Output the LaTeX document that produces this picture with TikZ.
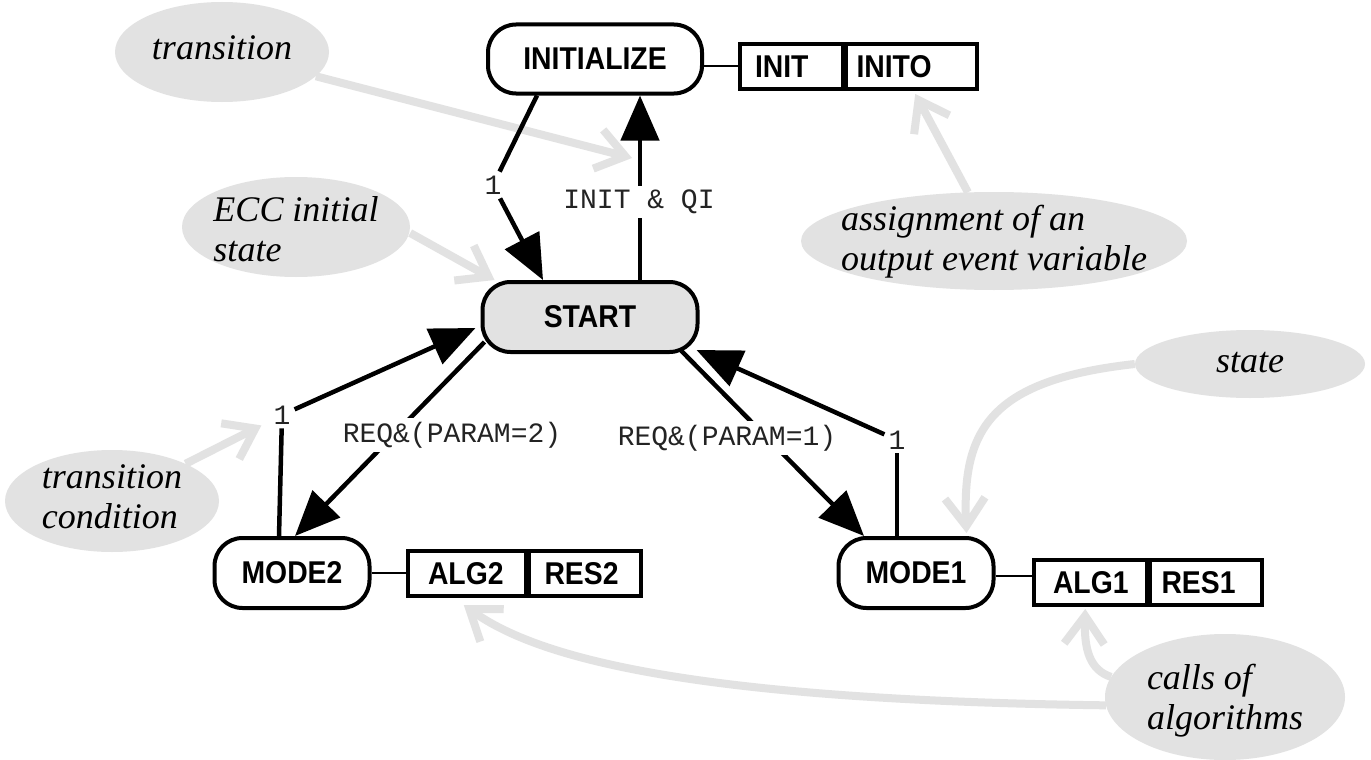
\documentclass[tikz,border=0pt]{standalone}
\usepackage{fontspec}
\setmainfont{Liberation Serif}
\setsansfont{Liberation Sans}
\setmonofont{Liberation Mono}
\newfontfamily\boxfont[FakeStretch=0.9]{Liberation Sans}
\usetikzlibrary{arrows.meta,shapes.geometric}
\definecolor{callgray}{RGB}{226,226,226}
\definecolor{lblcol}{RGB}{35,35,35}
\pgfdeclarelayer{bg}
\pgfsetlayers{bg,main}
\newcommand\ctext[2]{\makebox[0pt]{\raisebox{#1}[0pt][0pt]{\begin{tabular}[t]{@{}l@{}}#2\end{tabular}}}}
\tikzset{
  statebox/.style={draw, line width=4pt, rounded corners=28pt, minimum height=70pt,
    inner sep=0pt, font=\boxfont\bfseries\fontsize{31.5}{32}\selectfont},
  cellbox/.style 2 args={draw, line width=4pt, rectangle, minimum height=45pt,
    anchor=north west, text width=#1, inner xsep=#2, inner ysep=0pt, align=left,
    font=\boxfont\bfseries\fontsize{31.5}{32}\selectfont},
  thinline/.style={draw, line width=2pt},
  trline/.style={draw, line width=4.5pt},
  trarr/.style={trline, -{Triangle[length=45pt,width=38pt]}},
  lbl/.style={font=\ttfamily\fontsize{28}{28}\selectfont, text=lblcol, fill=white, inner sep=4pt},
  callout/.style={ellipse, fill=callgray, inner sep=0pt, font=\itshape\fontsize{36}{40}\selectfont},
  ga/.style={draw=callgray, line width=8pt, -{Straight Barb[length=28pt,width=40pt]}}
}
\begin{document}
\begin{tikzpicture}[x=1pt,y=-1pt]
\useasboundingbox (0,0) rectangle (1371,760);
\begin{pgfonlayer}{bg}
  \fill[white] (0,0) rectangle (1371,760);
\end{pgfonlayer}

% callout ellipses
\node[callout, minimum width=214pt, minimum height=100pt] (ctr) at (222,52) {\ctext{-8pt}{transition}};
\node[callout, minimum width=228pt, minimum height=100pt] (cecc) at (296,227) {\ctext{6pt}{ECC initial\\state}};
\node[callout, minimum width=214pt, minimum height=102pt] (ctc) at (112,501) {\ctext{13pt}{transition\\condition}};
\node[callout, minimum width=386pt, minimum height=98pt] (casg) at (994,241) {\ctext{11pt}{assignment of an\\output event variable}};
\node[callout, minimum width=230pt, minimum height=68pt] (cst) at (1250,364) {\ctext{-8pt}{state}};
\node[callout, minimum width=240pt, minimum height=126pt] (ccall) at (1225,697) {\ctext{8pt}{calls of\\algorithms}};

% states
\node[statebox, minimum width=214pt, minimum height=69pt] (init) at (595,59) {INITIALIZE};
\node[statebox, fill=callgray, minimum width=215pt] (start) at (590,317) {START};
\node[statebox, minimum width=155pt] (mode2) at (292,573) {MODE2};
\node[statebox, minimum width=155pt] (mode1) at (916,573) {MODE1};

% action boxes
\node[cellbox={72.5pt}{15pt}] (ia) at (738,42) {INIT};
\node[cellbox={109.5pt}{11pt}] (ib) at (843.5,42) {INITO};
\node[cellbox={77.5pt}{20pt}] (a2) at (406,549) {ALG2};
\node[cellbox={80.5pt}{16pt}] (r2) at (526.5,549) {RES2};
\node[cellbox={74.5pt}{19pt}] (a1) at (1032,558) {ALG1};
\node[cellbox={88.5pt}{12pt}] (r1) at (1147.5,558) {RES1};

\draw[thinline] (init.east |- ia.west) -- (ia.west);
\draw[thinline] (mode2.east) -- (mode2.east -| a2.west);
\draw[thinline] ([yshift=-3pt]mode1.east) -- ([yshift=-3pt]mode1.east -| a1.west);

% transition condition labels used as bends
\node[lbl] (l1) at (493,185) {1};
\node[lbl] (l4) at (282,415) {1};
\node[lbl] (l6) at (897,440) {1};

% transitions
\draw[trline] ([xshift=-58pt]init.south) -- (l1);
\draw[trarr] (l1) -- ([xshift=-47pt]start.north);

\draw[trarr] ([xshift=50pt]start.north) -- ([xshift=45pt]init.south);
\node[lbl] (lq) at (639,202) {INIT \& QI};

\draw[trarr] ([xshift=4pt,yshift=12pt]start.south west) -- ([xshift=3pt]mode2.north);
\node[lbl] (lr2) at (452,435) {REQ\&(PARAM=2)};

\draw[trline] ([xshift=-13pt]mode2.north) -- (l4);
\draw[trarr] (l4) -- ([xshift=-5pt,yshift=-11pt]start.west);

\draw[trarr] ([xshift=-18pt,yshift=3pt]start.south east) -- ([xshift=-52pt]mode1.north);
\node[lbl] (lr1) at (727,438) {REQ\&(PARAM=1)};

\draw[trline] ([xshift=-19pt]mode1.north) -- (l6);
\draw[trarr] (l6) -- ([xshift=-3pt,yshift=4pt]start.south east);

% gray callout arrows
\coordinate (ttip) at (632,158);
\begin{pgfonlayer}{bg}
  \draw[ga] (ctr) -- (ttip);
  \draw[ga] ([yshift=-6pt]cecc.east) -- ([xshift=14pt]start.north west);
  \draw[ga, shorten >=9pt] (ctc) -- (l4);
  \draw[ga] (casg) -- ([xshift=4pt,yshift=-3pt]ib.south);
  \draw[ga] (cst.west) .. controls (990,380) and (962,430) .. ([xshift=-29pt,yshift=3pt]mode1.north east);
  \draw[ga] (ccall.170) .. controls (1090,670) and (1084,650) .. ([xshift=-5pt,yshift=-2pt]a1.south);
  \draw[ga] (ccall.184) .. controls (700,700) and (540,660) .. ([xshift=-3pt,yshift=-7pt]a2.south);
\end{pgfonlayer}
\end{tikzpicture}
\end{document}
